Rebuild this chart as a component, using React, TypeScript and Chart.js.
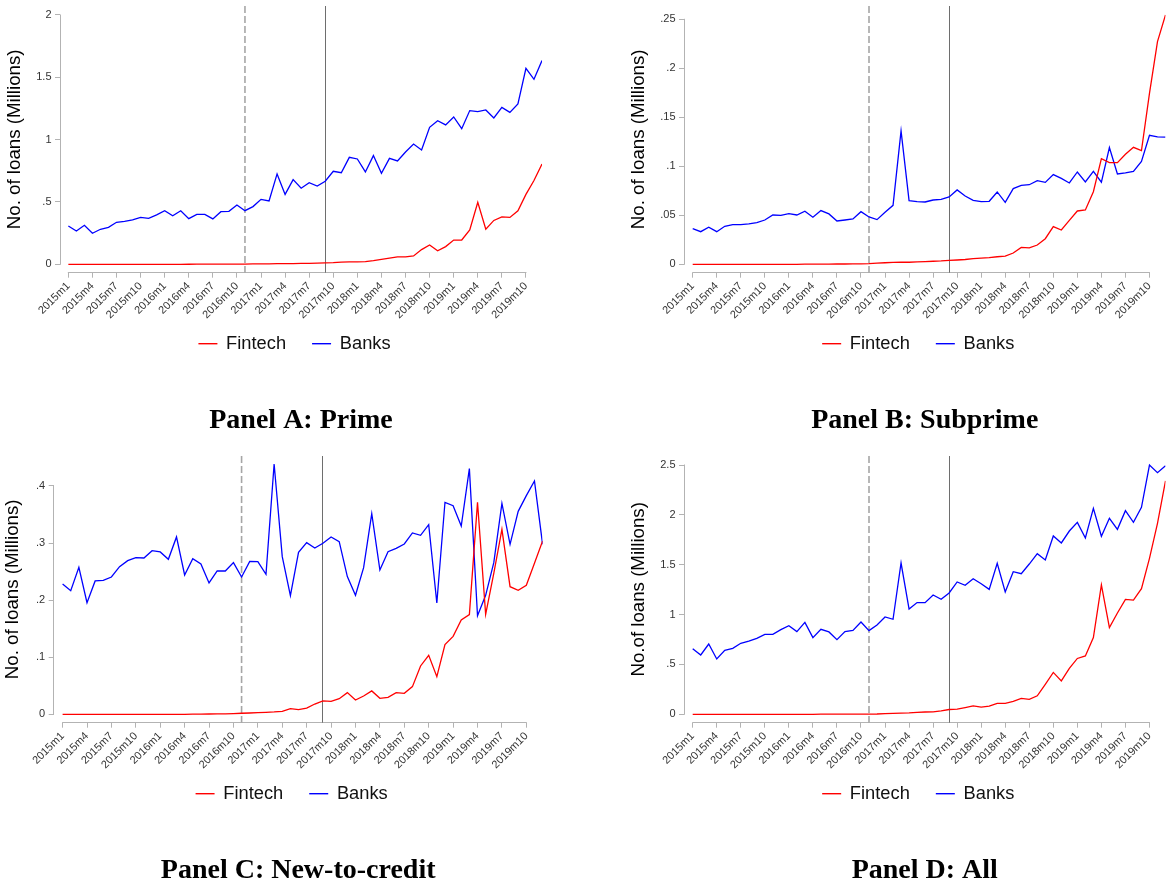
import { useEffect, useRef } from 'react';
import { Chart, registerables } from 'chart.js';

Chart.register(...registerables);

// Monthly categories, 2015m1 .. 2019m12
const MONTHS = [
  '2015m1', '2015m2', '2015m3', '2015m4', '2015m5', '2015m6', '2015m7', '2015m8', '2015m9', '2015m10', '2015m11', '2015m12',
  '2016m1', '2016m2', '2016m3', '2016m4', '2016m5', '2016m6', '2016m7', '2016m8', '2016m9', '2016m10', '2016m11', '2016m12',
  '2017m1', '2017m2', '2017m3', '2017m4', '2017m5', '2017m6', '2017m7', '2017m8', '2017m9', '2017m10', '2017m11', '2017m12',
  '2018m1', '2018m2', '2018m3', '2018m4', '2018m5', '2018m6', '2018m7', '2018m8', '2018m9', '2018m10', '2018m11', '2018m12',
  '2019m1', '2019m2', '2019m3', '2019m4', '2019m5', '2019m6', '2019m7', '2019m8', '2019m9', '2019m10', '2019m11', '2019m12',
];

const X_TICK_LABELS = [
  '2015m1', '2015m4', '2015m7', '2015m10', '2016m1', '2016m4', '2016m7', '2016m10', '2017m1', '2017m4',
  '2017m7', '2017m10', '2018m1', '2018m4', '2018m7', '2018m10', '2019m1', '2019m4', '2019m7', '2019m10',
];

// Event markers
const MARKER_DASHED = '2016m11';
const MARKER_SOLID = '2017m9';

const SERIES_NAMES = ['Fintech', 'Banks'];
const SERIES_COLORS = ['#ff0000', '#0000ff'];

// Panel A: Prime (millions of loans)
const PRIME_FINTECH = [
  0, 0, 0, 0, 0, 0, 0, 0, 0, 0, 0, 0, 0, 0, 0, 0.0005,
  0.001, 0.001, 0.001, 0.001, 0.002, 0.002, 0.002,
  0.003, 0.004, 0.004, 0.005, 0.005, 0.006, 0.007, 0.008, 0.010, 0.012,
  0.013, 0.017, 0.019, 0.020, 0.022, 0.030, 0.040, 0.050, 0.060, 0.059,
  0.067, 0.118, 0.155, 0.108, 0.142, 0.194, 0.195, 0.275, 0.497, 0.281,
  0.352, 0.380, 0.376, 0.429, 0.561, 0.672, 0.805,
];
const PRIME_BANKS = [
  0.307, 0.267, 0.313, 0.249, 0.281, 0.297, 0.337, 0.345, 0.356, 0.377,
  0.369, 0.396, 0.430, 0.390, 0.430, 0.366, 0.401, 0.401, 0.364, 0.422,
  0.425, 0.476, 0.430, 0.463, 0.521, 0.508, 0.725, 0.561, 0.679, 0.610,
  0.655, 0.628, 0.666, 0.746, 0.735, 0.858, 0.845, 0.741, 0.872, 0.730,
  0.850, 0.829, 0.901, 0.965, 0.917, 1.099, 1.152, 1.118, 1.182, 1.088,
  1.233, 1.225, 1.238, 1.174, 1.259, 1.219, 1.286, 1.572, 1.484, 1.634,
];
const PRIME_Y_TICKS = [0, 0.5, 1, 1.5, 2];

// Panel B: Subprime
const SUBPRIME_FINTECH = [
  0, 0, 0, 0, 0, 0, 0, 0, 0, 0, 0, 0, 0, 0,
  0.0001, 0.0001, 0.0002, 0.0002, 0.0003, 0.0003, 0.0004, 0.0005,
  0.0007, 0.0012, 0.0016, 0.0019, 0.0022, 0.0021, 0.0024, 0.0027, 0.0031, 0.0034,
  0.0040, 0.0044, 0.0049, 0.0057, 0.0062, 0.0068, 0.0077, 0.0084, 0.0115, 0.0173,
  0.0167, 0.0197, 0.0261, 0.0384, 0.0350, 0.0449, 0.0544, 0.0554, 0.0741, 0.1078,
  0.1037, 0.1037, 0.1122, 0.1194, 0.1160, 0.1745, 0.2272, 0.2544,
];
const SUBPRIME_BANKS = [
  0.0364, 0.0333, 0.0378, 0.0333, 0.0388, 0.0405, 0.0405, 0.0412, 0.0425, 0.0452,
  0.0503, 0.0500, 0.0517, 0.0503, 0.0541, 0.0480, 0.0548, 0.0514, 0.0442, 0.0452,
  0.0463, 0.0537, 0.0483, 0.0456, 0.0531, 0.0602, 0.1361, 0.0650, 0.0639, 0.0636,
  0.0656, 0.0663, 0.0687, 0.0759, 0.0697, 0.0653, 0.0639, 0.0643, 0.0738, 0.0632,
  0.0772, 0.0805, 0.0812, 0.0853, 0.0836, 0.0915, 0.0877, 0.0830, 0.0942, 0.0840,
  0.0949, 0.0838, 0.1191, 0.0922, 0.0933, 0.0949, 0.1050, 0.1316, 0.1300, 0.1297,
];
const SUBPRIME_Y_TICKS = [0, 0.05, 0.1, 0.15, 0.2, 0.25];

// Panel C: New-to-credit
const NTC_FINTECH = [
  0, 0, 0, 0, 0, 0, 0, 0, 0, 0, 0, 0, 0, 0, 0, 0,
  0.0003, 0.0004, 0.0005, 0.0007, 0.0009, 0.0012, 0.0018, 0.0023, 0.0030, 0.0035,
  0.0042, 0.0053, 0.0098, 0.0082, 0.0110, 0.0180, 0.0235, 0.0228, 0.0274, 0.0380,
  0.0251, 0.0321, 0.0410, 0.0280, 0.0298, 0.0380, 0.0368, 0.0485, 0.0847, 0.1034,
  0.0660, 0.1220, 0.1366, 0.1653, 0.1746, 0.3714, 0.1752, 0.2470, 0.3240, 0.2236,
  0.2172, 0.2260, 0.2645, 0.3036,
];
const NTC_BANKS = [
  0.2283, 0.2166, 0.2575, 0.1956, 0.2336, 0.2347, 0.2406, 0.2587, 0.2692, 0.2745,
  0.2739, 0.2867, 0.2844, 0.2715, 0.3107, 0.2441, 0.2727, 0.2634, 0.2301, 0.2511,
  0.2511, 0.2657, 0.2406, 0.2680, 0.2674, 0.2453, 0.4385, 0.2762, 0.2079, 0.2838,
  0.3007, 0.2914, 0.2996, 0.3107, 0.3025, 0.2412, 0.2085, 0.2569, 0.3515, 0.2528,
  0.2850, 0.2908, 0.2984, 0.3177, 0.3136, 0.3323, 0.1950, 0.3714, 0.3655, 0.3299,
  0.4304, 0.1728, 0.2085, 0.2657, 0.3696, 0.2978, 0.3556, 0.3831, 0.4088, 0.2978,
];
const NTC_Y_TICKS = [0, 0.1, 0.2, 0.3, 0.4];

// Panel D: All
const ALL_FINTECH = [
  0, 0, 0, 0, 0, 0, 0, 0, 0, 0, 0, 0, 0, 0, 0, 0,
  0.001, 0.001, 0.001, 0.002, 0.002, 0.002, 0.002, 0.003, 0.007, 0.010,
  0.012, 0.014, 0.020, 0.023, 0.025, 0.035, 0.048, 0.052, 0.068, 0.085,
  0.072, 0.082, 0.110, 0.110, 0.130, 0.160, 0.150, 0.185, 0.300, 0.420,
  0.335, 0.460, 0.560, 0.585, 0.769, 1.297, 0.869, 1.016, 1.153, 1.146,
  1.260, 1.564, 1.915, 2.340,
];
const ALL_BANKS = [
  0.658, 0.595, 0.705, 0.555, 0.642, 0.662, 0.712, 0.735, 0.762, 0.802,
  0.802, 0.849, 0.889, 0.829, 0.922, 0.769, 0.852, 0.826, 0.749, 0.829,
  0.842, 0.926, 0.839, 0.896, 0.976, 0.953, 1.517, 1.056, 1.120, 1.120,
  1.196, 1.153, 1.217, 1.327, 1.293, 1.360, 1.310, 1.253, 1.514, 1.227,
  1.430, 1.410, 1.507, 1.611, 1.547, 1.788, 1.718, 1.838, 1.925, 1.768,
  2.065, 1.785, 1.965, 1.855, 2.042, 1.925, 2.075, 2.500, 2.423, 2.493,
];
const ALL_Y_TICKS = [0, 0.5, 1, 1.5, 2, 2.5];

const SANS = '"Liberation Sans", Arial, Helvetica, sans-serif';
const SERIF = '"Liberation Serif", "Times New Roman", serif';

const AXIS_GRAY = '#b3b3b3';
const TICK_TEXT = '#333333';

// Vertical layout below the plot region
const X_AXIS_BAND = 90;
const LEGEND_DROP = 71;
const TITLE_DROP = 148.3;
const TITLE_SIZE = 28;
const TITLE_LINE = 0.85;

type Box = { x: number; y: number; w: number; h: number };
type Area = { l: number; t: number; r: number; b: number };
type Panel = {
  title: string;
  yTitle: string;
  fintech: number[];
  banks: number[];
  yTicks: number[];
  box: Box;
  area: Area;
  xMin: number;
  xMax: number;
  yMin: number;
  yMax: number;
  yTitlePad: number;
};

const PANELS: Panel[] = [
  {
    title: 'Panel A: Prime', yTitle: 'No. of loans (Millions)',
    fintech: PRIME_FINTECH, banks: PRIME_BANKS, yTicks: PRIME_Y_TICKS,
    box: { x: 0, y: 0, w: 583, h: 442 }, area: { l: 60, t: 6, r: 542, b: 272.7 },
    xMin: -1.04, xMax: 59, yMin: -0.0674, yMax: 2.0722, yTitlePad: 3.4,
  },
  {
    title: 'Panel B: Subprime', yTitle: 'No. of loans (Millions)',
    fintech: SUBPRIME_FINTECH, banks: SUBPRIME_BANKS, yTicks: SUBPRIME_Y_TICKS,
    box: { x: 583, y: 0, w: 584, h: 442 }, area: { l: 101, t: 6, r: 582.5, b: 272.7 },
    xMin: -1.086, xMax: 59, yMin: -0.00857, yMax: 0.26357, yTitlePad: 44.7,
  },
  {
    title: 'Panel C: New-to-credit', yTitle: 'No. of loans (Millions)',
    fintech: NTC_FINTECH, banks: NTC_BANKS, yTicks: NTC_Y_TICKS,
    box: { x: 0, y: 442, w: 583, h: 442 }, area: { l: 53.7, t: 14, r: 542.6, b: 280.7 },
    xMin: -1.094, xMax: 59, yMin: -0.01472, yMax: 0.45256, yTitlePad: 1.4,
  },
  {
    title: 'Panel D: All', yTitle: 'No.of loans (Millions)',
    fintech: ALL_FINTECH, banks: ALL_BANKS, yTicks: ALL_Y_TICKS,
    box: { x: 583, y: 442, w: 584, h: 442 }, area: { l: 101, t: 14, r: 582.5, b: 280.7 },
    xMin: -1.086, xMax: 59, yMin: -0.08424, yMax: 2.5903, yTitlePad: 44.7,
  },
];

// Stata-style numeric labels: 0, .05, .5, 1.5 ...
function axisLabel(v: number): string {
  if (v === 0) return '0';
  const s = String(Math.round(v * 1000) / 1000);
  return s.startsWith('0.') ? s.slice(1) : s;
}

function crisp(px: number, width: number): number {
  const half = width / 2;
  return Math.round(px - half) + half;
}

// Axis lines limited to the tick range, event markers and the legend row.
function makeDecor() {
  return {
    id: 'panelDecor',
    beforeDatasetsDraw(chart: any) {
      const { ctx, chartArea: a, scales } = chart;
      const xs = scales.x;
      const ys = scales.y;
      const yVals = ys.ticks.map((t: any) => t.value);
      const xVals = xs.ticks.map((t: any) => t.value);
      ctx.save();

      // y axis line
      ctx.strokeStyle = AXIS_GRAY;
      ctx.lineWidth = 1;
      const ax = crisp(a.left, 1);
      ctx.beginPath();
      ctx.moveTo(ax, ys.getPixelForValue(Math.min(...yVals)) + 0.5);
      ctx.lineTo(ax, ys.getPixelForValue(Math.max(...yVals)) - 0.5);
      ctx.stroke();

      // x axis line
      const ay = crisp(a.bottom, 1);
      ctx.beginPath();
      ctx.moveTo(xs.getPixelForValue(Math.min(...xVals)) - 0.5, ay);
      ctx.lineTo(xs.getPixelForValue(Math.max(...xVals)) + 0.5, ay);
      ctx.stroke();

      // event markers
      const dx = xs.getPixelForValue(MONTHS.indexOf(MARKER_DASHED));
      ctx.strokeStyle = '#a6a6a6';
      ctx.lineWidth = 1.6;
      ctx.setLineDash([7, 3]);
      ctx.beginPath();
      ctx.moveTo(dx, a.top);
      ctx.lineTo(dx, a.bottom);
      ctx.stroke();

      const sx = crisp(xs.getPixelForValue(MONTHS.indexOf(MARKER_SOLID)), 1);
      ctx.setLineDash([]);
      ctx.strokeStyle = '#6e6e6e';
      ctx.lineWidth = 1;
      ctx.beginPath();
      ctx.moveTo(sx, a.top);
      ctx.lineTo(sx, a.bottom);
      ctx.stroke();
      ctx.restore();
    },
    afterDraw(chart: any) {
      const { ctx, chartArea: a } = chart;
      const lineLen = 19;
      const lineGap = 8.7;
      const itemGap = 26;
      ctx.save();
      ctx.font = `18.3px ${SANS}`;
      const items = chart.data.datasets.map((ds: any) => ({
        text: ds.label as string,
        color: ds.borderColor as string,
        w: ctx.measureText(ds.label).width,
      }));
      const total =
        items.reduce((s: number, it: any) => s + lineLen + lineGap + it.w, 0) + itemGap * (items.length - 1);
      let x = (a.left + a.right) / 2 - 6.5 - total / 2;
      const y = a.bottom + LEGEND_DROP;
      ctx.textBaseline = 'middle';
      ctx.textAlign = 'left';
      for (const it of items) {
        ctx.strokeStyle = it.color;
        ctx.lineWidth = 1.4;
        ctx.beginPath();
        ctx.moveTo(x, y);
        ctx.lineTo(x + lineLen, y);
        ctx.stroke();
        x += lineLen + lineGap;
        ctx.fillStyle = '#111111';
        ctx.fillText(it.text, x, y);
        x += it.w + itemGap;
      }
      ctx.restore();
    },
  };
}

function buildConfig(p: Panel): any {
  const xTickValues = X_TICK_LABELS.map((l) => MONTHS.indexOf(l));
  const titleLinePx = TITLE_SIZE * TITLE_LINE;
  const titlePadTop = TITLE_DROP - X_AXIS_BAND - titleLinePx / 2;
  const titleBox = titleLinePx + titlePadTop;
  const series = [p.fintech, p.banks];

  return {
    type: 'line',
    data: {
      datasets: series.map((vals, k) => ({
        label: SERIES_NAMES[k],
        data: vals.map((v, i) => ({ x: i, y: v })),
        borderColor: SERIES_COLORS[k],
        backgroundColor: SERIES_COLORS[k],
        borderWidth: 1.3,
        pointRadius: 0,
        tension: 0,
        fill: false,
      })),
    },
    options: {
      responsive: false,
      animation: false,
      devicePixelRatio: 1,
      events: [],
      layout: {
        padding: {
          left: 0,
          top: p.area.t,
          right: p.box.w - p.area.r,
          bottom: p.box.h - p.area.b - X_AXIS_BAND - titleBox,
        },
      },
      plugins: {
        legend: { display: false },
        tooltip: { enabled: false },
        title: {
          display: true,
          text: p.title,
          position: 'bottom',
          fullSize: false,
          align: 'center',
          color: '#000000',
          font: { family: SERIF, size: TITLE_SIZE, weight: 'bold', lineHeight: TITLE_LINE },
          padding: { top: titlePadTop, bottom: 0 },
        },
      },
      scales: {
        x: {
          type: 'linear',
          min: p.xMin,
          max: p.xMax,
          bounds: 'data',
          afterBuildTicks: (s: any) => {
            s.ticks = xTickValues.map((v) => ({ value: v }));
          },
          afterFit: (s: any) => {
            s.height = X_AXIS_BAND;
          },
          border: { display: false },
          grid: { display: true, drawOnChartArea: false, drawTicks: true, tickLength: 5, color: AXIS_GRAY, lineWidth: 1 },
          ticks: {
            autoSkip: false,
            minRotation: 45,
            maxRotation: 45,
            padding: 2,
            color: TICK_TEXT,
            font: { family: SANS, size: 11 },
            callback: (v: number) => MONTHS[v] ?? '',
          },
        },
        y: {
          type: 'linear',
          min: p.yMin,
          max: p.yMax,
          bounds: 'data',
          afterBuildTicks: (s: any) => {
            s.ticks = p.yTicks.map((v) => ({ value: v }));
          },
          afterFit: (s: any) => {
            s.width = p.area.l;
          },
          border: { display: false },
          grid: { display: true, drawOnChartArea: false, drawTicks: true, tickLength: 5, color: AXIS_GRAY, lineWidth: 1 },
          ticks: {
            padding: 3.5,
            color: TICK_TEXT,
            font: { family: SANS, size: 11, lineHeight: 0.3 },
            callback: (v: number) => axisLabel(v),
          },
          title: {
            display: true,
            text: p.yTitle,
            color: '#000000',
            font: { family: SANS, size: 18.7 },
            padding: { top: p.yTitlePad, bottom: 0 },
          },
        },
      },
    },
    plugins: [makeDecor()],
  };
}

function PanelChart({ panel }: { panel: Panel }) {
  const ref = useRef<HTMLCanvasElement | null>(null);
  useEffect(() => {
    const canvas = ref.current;
    if (!canvas) return;
    const chart = new Chart(canvas, buildConfig(panel));
    return () => chart.destroy();
  }, [panel]);
  return (
    <canvas
      ref={ref}
      width={panel.box.w}
      height={panel.box.h}
      style={{
        position: 'absolute',
        left: panel.box.x,
        top: panel.box.y,
        width: panel.box.w,
        height: panel.box.h,
      }}
    />
  );
}

export default function App() {
  return (
    <div
      style={{
        position: 'absolute',
        left: 0,
        top: 0,
        width: 1167,
        height: 884,
        overflow: 'hidden',
        background: '#ffffff',
      }}
    >
      {PANELS.map((p) => (
        <PanelChart key={p.title} panel={p} />
      ))}
    </div>
  );
}
